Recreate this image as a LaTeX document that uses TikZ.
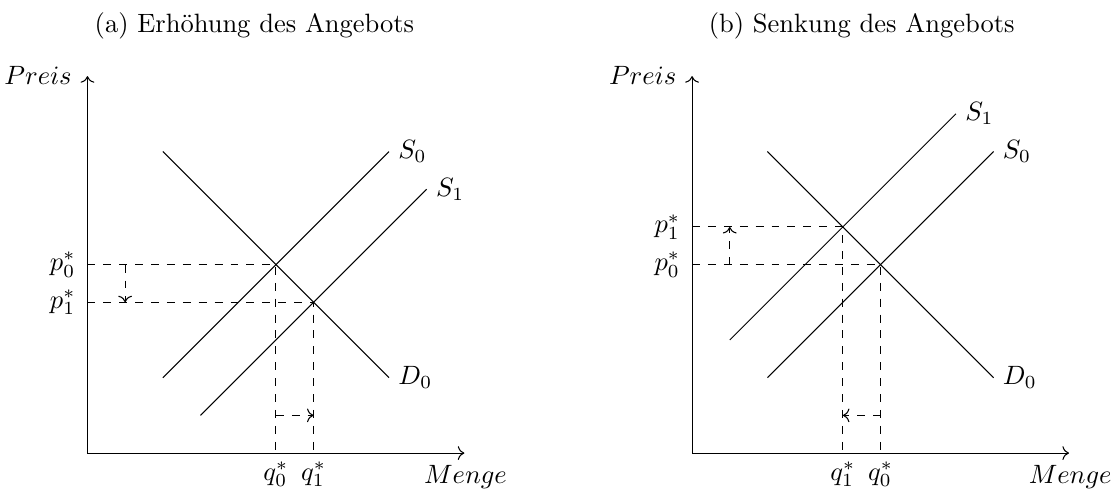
\documentclass[tikz,border=0pt]{standalone}
\usepackage{amsmath}
\usetikzlibrary{arrows.meta, positioning}
\tikzset{
    axis/.style={->},
    curve/.style={thin},
    guide/.style={dashed},
    shiftarrow/.style={dashed, ->},
    paneltitle/.style={anchor=base},
    axislabel/.style={anchor=base},
    pricelabel/.style={left, xshift=-1pt},
    qtylabel/.style={anchor=base}
}

\begin{document}
\begin{tikzpicture}[x=0.5cm, y=0.5cm]
    \useasboundingbox (-2.32,-1.035) rectangle (27.34,12.02);

    % Panel (a): supply increases
    \begin{scope}
        \node[paneltitle] (a-title) at (4.43,11.17) {(a) Erhöhung des Angebots};
        \coordinate (a-o) at (0,0);
        \coordinate (a-x) at (10,0);
        \coordinate (a-y) at (0,10);
        \draw[axis] (a-o) -- (a-x);
        \draw[axis] (a-o) -- (a-y);
        \node[axislabel] (a-menge) at (10.03,-0.82) {$Menge$};
        \node[axislabel, anchor=base east] (a-preis) at (-0.17,9.77) {$Preis$};

        \coordinate (a-d0s) at (2,8); \coordinate (a-d0e) at (8,2);
        \coordinate (a-s0s) at (2,2); \coordinate (a-s0e) at (8,8);
        \coordinate (a-s1s) at (3,1); \coordinate (a-s1e) at (9,7);
        \draw[curve] (a-d0s) -- (a-d0e);
        \draw[curve] (a-s0s) -- (a-s0e);
        \draw[curve] (a-s1s) -- (a-s1e);
        \node[right] (a-D0) at (a-d0e) {$D_0$};
        \node[right] (a-S0) at (a-s0e) {$S_0$};
        \node[right] (a-S1) at (a-s1e) {$S_1$};

        % equilibria
        \coordinate (a-e0) at (5,5); \coordinate (a-e1) at (6,4);
        \coordinate (a-p0) at (0,5); \coordinate (a-p1) at (0,4);
        \coordinate (a-q0) at (5,0); \coordinate (a-q1) at (6,0);
        \draw[guide] (a-p0) -- (a-e0) -- (a-q0);
        \draw[guide] (a-p1) -- (a-e1) -- (a-q1);
        \node[pricelabel] (a-p0lab) at (a-p0) {$p_0^*$};
        \node[pricelabel] (a-p1lab) at (a-p1) {$p_1^*$};
        \node[qtylabel] (a-q0lab) at (5,-0.72) {$q_0^*$};
        \node[qtylabel] (a-q1lab) at (6,-0.72) {$q_1^*$};

        % shifts
        \coordinate (a-vs) at (1,5); \coordinate (a-ve) at (1,4);
        \coordinate (a-hs) at (5,1); \coordinate (a-he) at (6,1);
        \draw[shiftarrow] (a-vs) -- (a-ve);
        \draw[shiftarrow] (a-hs) -- (a-he);
    \end{scope}

    % Panel (b): supply decreases
    \begin{scope}[shift={(16.04,0)}]
        \node[paneltitle] (b-title) at (4.5,11.17) {(b) Senkung des Angebots};
        \coordinate (b-o) at (0,0);
        \coordinate (b-x) at (10,0);
        \coordinate (b-y) at (0,10);
        \draw[axis] (b-o) -- (b-x);
        \draw[axis] (b-o) -- (b-y);
        \node[axislabel] (b-menge) at (10.03,-0.82) {$Menge$};
        \node[axislabel, anchor=base east] (b-preis) at (-0.17,9.77) {$Preis$};

        \coordinate (b-d0s) at (2,8); \coordinate (b-d0e) at (8,2);
        \coordinate (b-s0s) at (2,2); \coordinate (b-s0e) at (8,8);
        \coordinate (b-s1s) at (1,3); \coordinate (b-s1e) at (7,9);
        \draw[curve] (b-d0s) -- (b-d0e);
        \draw[curve] (b-s0s) -- (b-s0e);
        \draw[curve] (b-s1s) -- (b-s1e);
        \node[right] (b-D0) at (b-d0e) {$D_0$};
        \node[right] (b-S0) at (b-s0e) {$S_0$};
        \node[right] (b-S1) at (b-s1e) {$S_1$};

        % equilibria
        \coordinate (b-e0) at (5,5); \coordinate (b-e1) at (4,6);
        \coordinate (b-p0) at (0,5); \coordinate (b-p1) at (0,6);
        \coordinate (b-q0) at (5,0); \coordinate (b-q1) at (4,0);
        \draw[guide] (b-p0) -- (b-e0) -- (b-q0);
        \draw[guide] (b-p1) -- (b-e1) -- (b-q1);
        \node[pricelabel] (b-p0lab) at (b-p0) {$p_0^*$};
        \node[pricelabel] (b-p1lab) at (b-p1) {$p_1^*$};
        \node[qtylabel] (b-q0lab) at (5,-0.72) {$q_0^*$};
        \node[qtylabel] (b-q1lab) at (4,-0.72) {$q_1^*$};

        % shifts
        \coordinate (b-vs) at (1,5); \coordinate (b-ve) at (1,6);
        \coordinate (b-hs) at (5,1); \coordinate (b-he) at (4,1);
        \draw[shiftarrow] (b-vs) -- (b-ve);
        \draw[shiftarrow] (b-hs) -- (b-he);
    \end{scope}

\end{tikzpicture}
\end{document}
